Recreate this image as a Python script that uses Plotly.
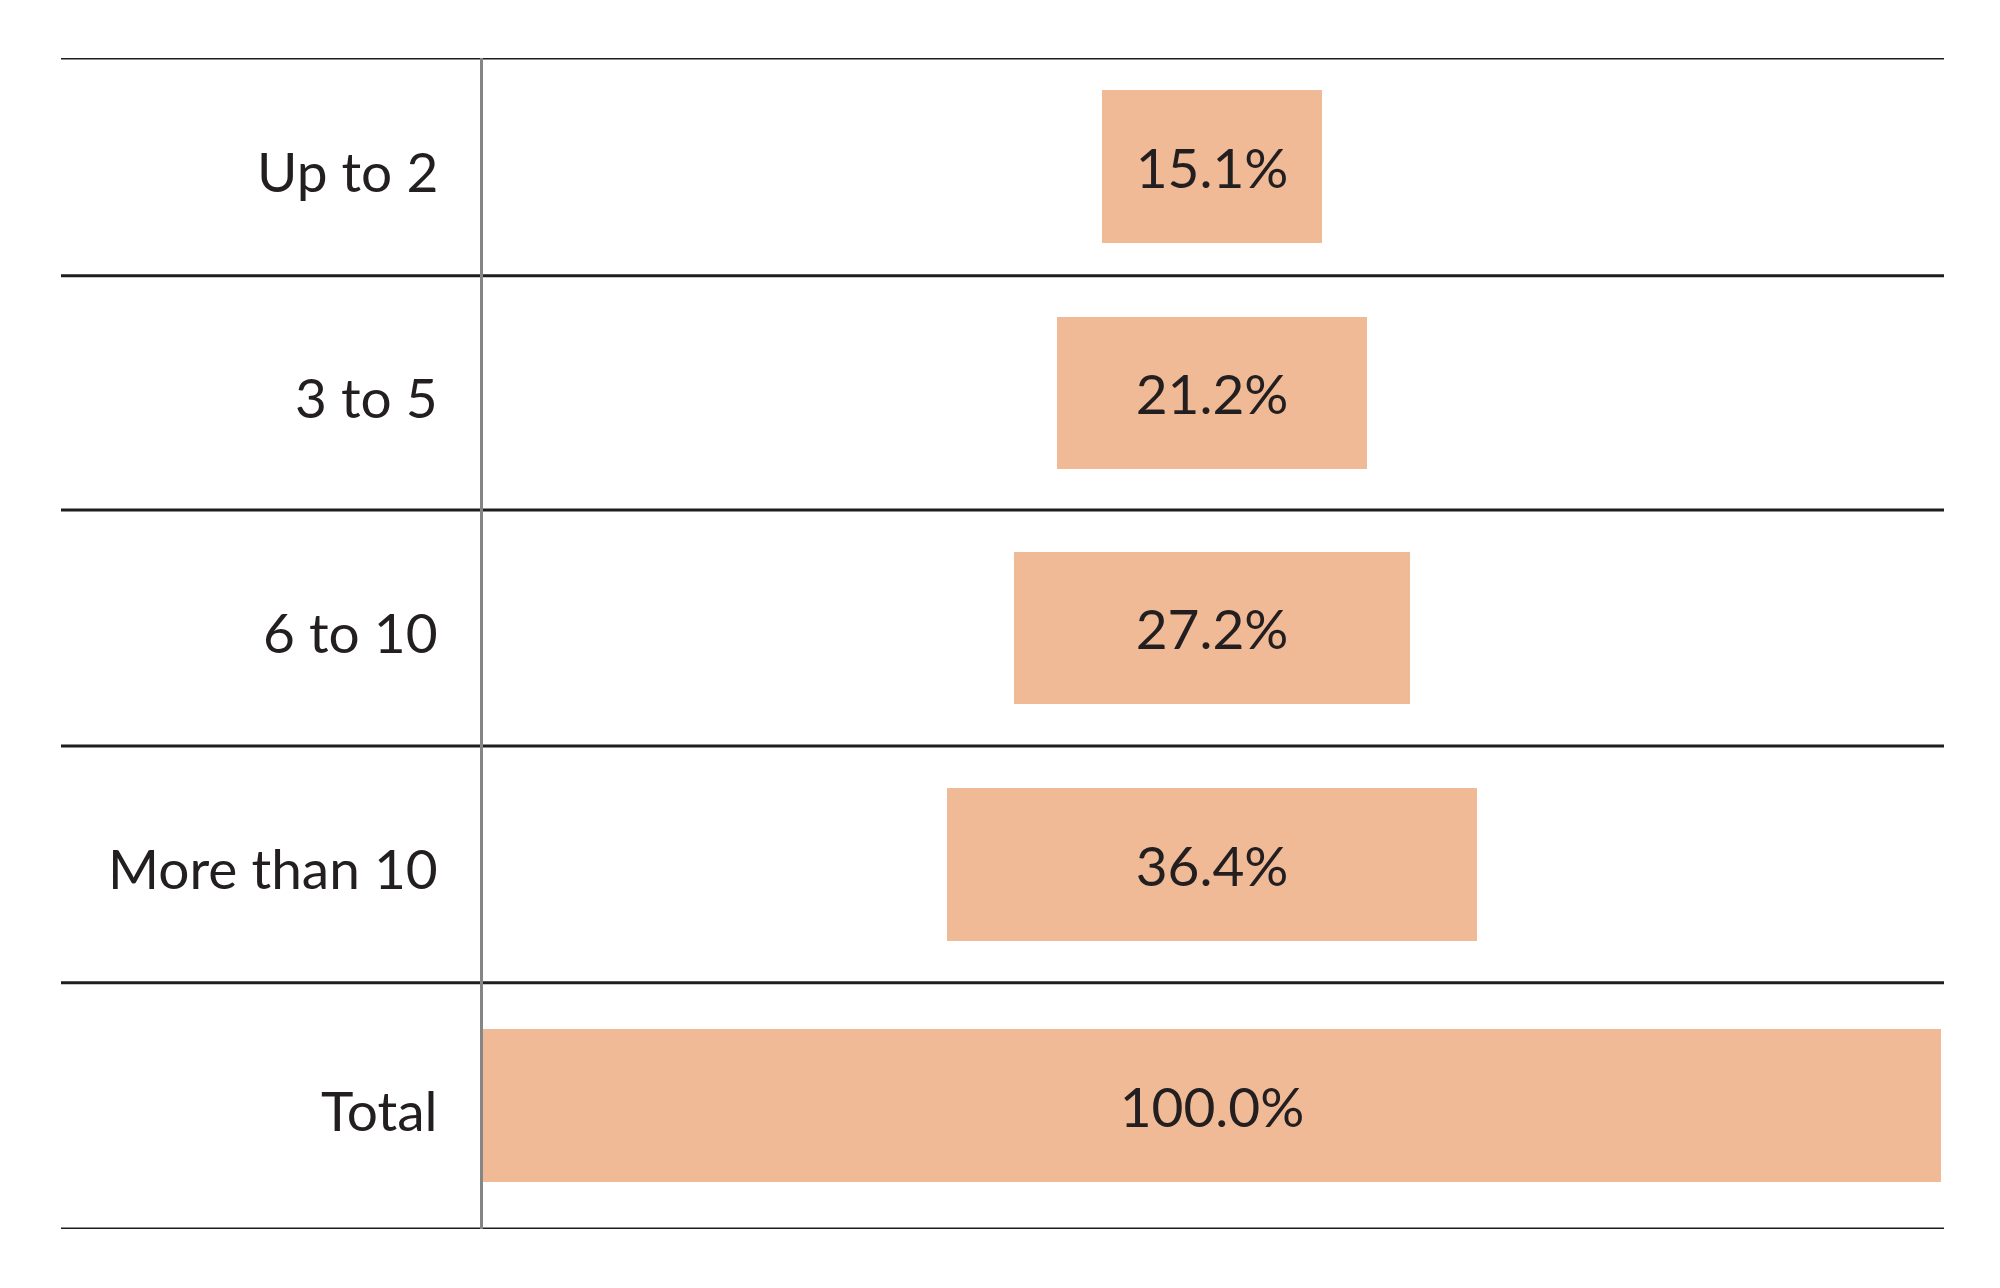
import plotly.graph_objects as go

# ---- data ----
categories = ["Up to 2", "3 to 5", "6 to 10", "More than 10", "Total"]
values = [15.1, 21.2, 27.2, 36.4, 100.0]
value_labels = ["15.1%", "21.2%", "27.2%", "36.4%", "100.0%"]

# ---- layout constants (page pixels; page body has an 8px margin) ----
OFF = 8
W, H = 2000 - OFF, 1288 - OFF
PLOT_LEFT, PLOT_RIGHT = 483 - OFF, 1941 - OFF
PLOT_TOP, PLOT_BOTTOM = 57.5 - OFF, 1229.5 - OFF
ROW_EDGES = [0, 218, 452.5, 688.5, 925.5, 1172]
BAR_THICK = 153
BAR_COLOR = "#F0BA96"
TEXT_COLOR = "#231F20"
FONT = "Lato"
FS = 55

plot_w = PLOT_RIGHT - PLOT_LEFT
row_centers = [(ROW_EDGES[i] + ROW_EDGES[i + 1]) / 2 for i in range(len(categories))]

fig = go.Figure()
fig.add_trace(go.Bar(
    orientation="h",
    x=values,
    base=[-v / 2 for v in values],
    y=row_centers,
    width=BAR_THICK,
    marker=dict(color=BAR_COLOR, line=dict(width=0)),
    text=value_labels,
    textposition="inside",
    insidetextanchor="middle",
    textangle=0,
    constraintext="none",
    textfont=dict(family=FONT, size=FS, color=TEXT_COLOR),
    hoverinfo="skip",
))

shapes = []
x_left_paper = (61 - OFF - PLOT_LEFT) / plot_w
x_right_paper = (1944 - OFF - PLOT_LEFT) / plot_w
for e in ROW_EDGES:
    shapes.append(dict(type="line", xref="paper", yref="y",
                       x0=x_left_paper, x1=x_right_paper, y0=e, y1=e,
                       line=dict(color="#1E1C1D", width=3), layer="above"))
vx = (481.5 - OFF - PLOT_LEFT) / plot_w
shapes.append(dict(type="line", xref="paper", yref="y",
                   x0=vx, x1=vx, y0=ROW_EDGES[0], y1=ROW_EDGES[-1],
                   line=dict(color="#858585", width=3), layer="above"))

annotations = []
lab_x = (440 - OFF - PLOT_LEFT) / plot_w
for cat, yc in zip(categories, row_centers):
    annotations.append(dict(text=cat, xref="paper", yref="y", x=lab_x, y=yc,
                            xanchor="right", yanchor="middle", showarrow=False,
                            yshift=-4,
                            font=dict(family=FONT, size=FS, color=TEXT_COLOR)))

fig.update_layout(
    width=W, height=H,
    margin=dict(l=PLOT_LEFT, r=W - PLOT_RIGHT, t=PLOT_TOP, b=H - PLOT_BOTTOM, pad=0),
    paper_bgcolor="white", plot_bgcolor="white",
    showlegend=False,
    xaxis=dict(range=[-50, 50], showgrid=False, zeroline=False, showticklabels=False,
               showline=False, fixedrange=True),
    yaxis=dict(range=[ROW_EDGES[-1], ROW_EDGES[0]], showgrid=False, zeroline=False,
               showticklabels=False, showline=False, fixedrange=True),
    shapes=shapes,
    annotations=annotations,
    bargap=0,
)

fig.write_html("out.html")
